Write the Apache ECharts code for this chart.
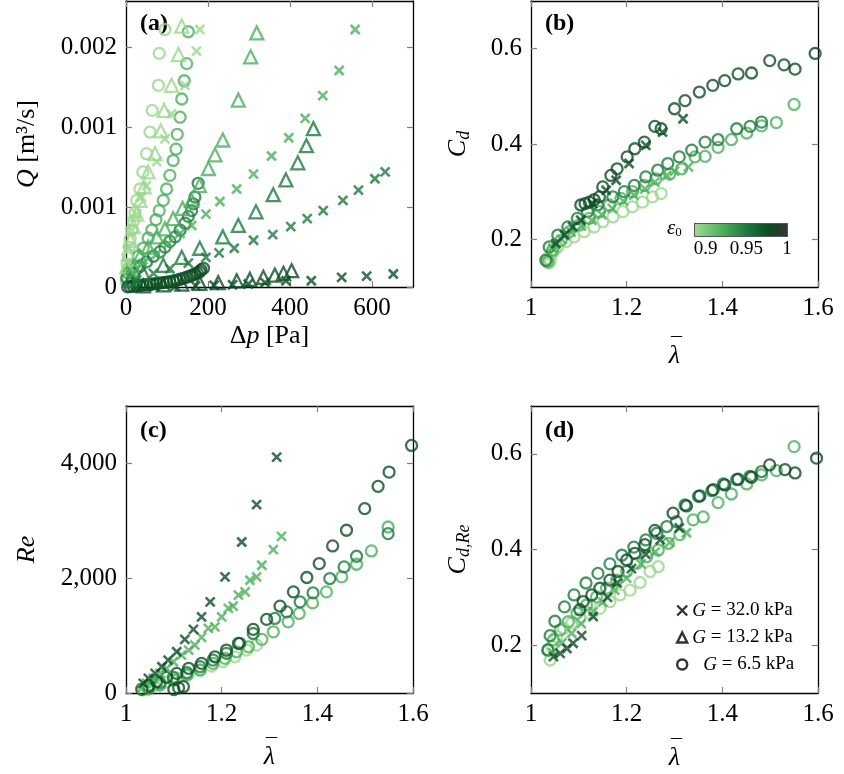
<!DOCTYPE html>
<html>
<head>
<meta charset="UTF-8">
<title>flow curves</title>
<script src="https://cdn.jsdelivr.net/npm/echarts@6/dist/echarts.min.js"></script>
<style>html,body{margin:0;padding:0;background:#fff}</style>
</head>
<body>
<div id="main" style="width:844px;height:774px;"></div>
<script>
// eps0 levels of the four sample groups (colour from the colour bar)
var epsL = 0.889, epsM = 0.921, epsD = 0.949, epsK = 0.975;

// (a) flow rate Q [m3/s] vs pressure drop [Pa]
var aCircL = [[95,0.00226],[81,0.00205],[79,0.00177],[64,0.00155],[58.5,0.00136],[50,0.00117],[41,0.00101],[34,0.00086],[26,0.00076],[22,0.00065],[18,0.00058],[14,0.0005],[10,0.00042],[8,0.00035],[5,0.00028],[3,0.0002],[4,0.00014],[2,0.00009],[1,0.00005]];
var aCircM = [[152,0.00224],[148,0.00196],[142,0.00181],[136,0.00165],[132,0.00149],[125,0.00134],[122,0.00121],[115,0.00111],[107,0.00098],[99,0.00086],[91,0.00076],[81,0.00067],[73,0.00059],[63,0.0005],[54,0.00043],[42,0.00034],[30,0.00027],[18,0.00019],[6,0.00012]];
var aCircD = [[176,0.00091],[168,0.00079],[164,0.00073],[160,0.00067],[152,0.00062],[144,0.00056],[132,0.0005],[120,0.00044],[107,0.0004],[95,0.00035],[83,0.00031],[67,0.00027],[50,0.00022],[34,0.00018],[18,0.00012],[2,0.00008]];
var aCircK = [[189,0.000164],[183,0.00015],[180,0.000134],[174,0.000124],[168,0.000114],[162,0.000105],[156,0.000096],[148,0.000086],[140,0.000076],[132,0.000068],[124,0.000061],[116,0.000053],[107,0.000046],[99,0.000042],[91,0.000038],[83,0.000035],[75,0.000032],[67,0.000028],[59,0.000024],[50,0.000021],[42,0.000018],[34,0.000013],[26,0.000009],[18,0.000006],[10,0.000003],[4,0.000001]];
var aTriL = [[136,0.00229],[128,0.00204],[111,0.00177],[93,0.00155],[85,0.00137],[71,0.00117],[54,0.00101],[44,0.00088],[34,0.00076],[26,0.00064],[18,0.00053],[11,0.00041],[6,0.00029],[2,0.00018]];
var aTriM = [[319,0.00223],[304,0.00202],[274,0.00164],[236,0.00129],[217,0.00116],[201,0.00104],[179,0.00089],[160,0.00076],[138,0.00069],[115,0.0006],[95,0.00051],[75,0.00044],[54,0.00035],[34,0.00027],[18,0.00018]];
var aTriD = [[457,0.00139],[440,0.00124],[419,0.00109],[390,0.00094],[359,0.00081],[317,0.00066],[274,0.00054],[236,0.00044],[180,0.00034],[136,0.00026],[91,0.00019],[42,0.00012],[10,0.00006]];
var aTriK = [[404,0.000143],[384,0.00012],[363,0.000105],[335,0.000085],[302,0.000067],[270,0.000055],[225,0.000038],[180,0.000032],[136,0.000026],[91,0.000018],[42,0.000009]];
var aCrossL = [[180,0.00226],[172,0.00207],[144,0.00177],[111,0.00152],[95,0.0013],[75,0.0011],[50,0.00089],[38,0.00079],[26,0.00064],[14,0.0005],[6,0.00035],[2,0.00021]];
var aCrossM = [[559,0.00226],[520,0.0019],[480,0.00168],[437,0.00148],[397,0.00131],[355,0.00115],[311,0.00099],[270,0.00086],[229,0.00075],[195,0.00064],[160,0.00054],[132,0.00047],[103,0.00038],[75,0.00029],[42,0.00021],[18,0.00012]];
var aCrossD = [[632,0.00101],[607,0.00095],[567,0.00085],[529,0.00076],[481,0.00067],[442,0.0006],[402,0.00053],[358,0.00046],[311,0.00041],[264,0.00034],[227,0.0003],[195,0.00026],[152,0.00021],[107,0.00016],[67,0.00012],[26,0.00006]];
var aCrossK = [[652,0.000114],[587,0.000096],[526,0.000085],[452,0.000055],[390,0.000055],[339,0.000038],[298,0.000026],[260,0.00002],[215,0.000015],[170,0.00001],[120,0.000006],[70,0.000003]];

// (b) Cd vs mean stretch
var bCircL = [[1.034,0.16],[1.038,0.15],[1.04,0.155],[1.042,0.167],[1.045,0.172],[1.05,0.178],[1.056,0.184],[1.073,0.195],[1.09,0.205],[1.111,0.216],[1.132,0.226],[1.15,0.237],[1.171,0.247],[1.192,0.258],[1.212,0.268],[1.233,0.278],[1.254,0.289],[1.272,0.296]];
var bCircM = [[1.035,0.153],[1.045,0.177],[1.063,0.198],[1.08,0.216],[1.101,0.23],[1.122,0.244],[1.143,0.258],[1.164,0.272],[1.188,0.286],[1.212,0.3],[1.237,0.313],[1.261,0.327],[1.29,0.337],[1.315,0.348],[1.343,0.373],[1.364,0.374],[1.391,0.393],[1.419,0.409],[1.451,0.423],[1.482,0.438],[1.513,0.445],[1.55,0.483]];
var bCircD = [[1.031,0.156],[1.038,0.184],[1.056,0.209],[1.077,0.226],[1.097,0.244],[1.118,0.258],[1.139,0.272],[1.171,0.289],[1.195,0.3],[1.216,0.313],[1.24,0.331],[1.265,0.345],[1.286,0.359],[1.31,0.373],[1.336,0.387],[1.364,0.404],[1.391,0.409],[1.43,0.432],[1.458,0.437],[1.482,0.446]];
var bCircK = [[1.104,0.272],[1.113,0.275],[1.122,0.278],[1.132,0.283],[1.143,0.289],[1.15,0.31],[1.167,0.334],[1.18,0.348],[1.201,0.373],[1.217,0.39],[1.237,0.404],[1.259,0.437],[1.272,0.432],[1.3,0.474],[1.322,0.491],[1.352,0.509],[1.38,0.523],[1.405,0.533],[1.433,0.547],[1.461,0.549],[1.499,0.575],[1.529,0.566],[1.552,0.557],[1.594,0.59]];
var bCrossM = [[1.045,0.182],[1.064,0.2],[1.084,0.215],[1.105,0.228],[1.127,0.24],[1.148,0.252],[1.17,0.265],[1.193,0.28],[1.215,0.293],[1.238,0.306],[1.259,0.32],[1.284,0.334],[1.3,0.343],[1.329,0.352]];
var bCrossK = [[1.052,0.191],[1.07,0.209],[1.087,0.226],[1.104,0.24],[1.129,0.275],[1.157,0.303],[1.178,0.324],[1.205,0.359],[1.24,0.397],[1.275,0.425],[1.318,0.453]];

// (c) Re vs mean stretch
var cCircL = [[1.036,52],[1.057,122],[1.082,191],[1.106,261],[1.131,330],[1.155,400],[1.179,470],[1.203,544],[1.228,631],[1.252,748],[1.273,835]];
var cCircM = [[1.047,70],[1.071,139],[1.099,226],[1.127,313],[1.155,400],[1.182,516],[1.207,603],[1.231,718],[1.256,805],[1.284,934],[1.308,1066],[1.339,1240],[1.362,1386],[1.39,1570],[1.419,1762],[1.451,2023],[1.482,2243],[1.513,2475],[1.548,2892]];
var cCircD = [[1.047,99],[1.071,179],[1.099,273],[1.127,353],[1.155,457],[1.182,574],[1.21,690],[1.238,864],[1.266,1037],[1.311,1299],[1.336,1414],[1.364,1588],[1.391,1744],[1.426,1994],[1.456,2197],[1.482,2382],[1.548,2777]];
var cCircK = [[1.1,60],[1.11,90],[1.12,110],[1.033,64],[1.047,122],[1.064,197],[1.085,273],[1.106,342],[1.131,430],[1.158,516],[1.186,631],[1.21,748],[1.235,864],[1.266,1108],[1.294,1282],[1.322,1513],[1.35,1762],[1.378,2012],[1.404,2255],[1.432,2562],[1.461,2835],[1.499,3212],[1.527,3600],[1.55,3849],[1.597,4313]];
var cCrossM = [[1.033,82],[1.043,168],[1.057,255],[1.071,342],[1.085,430],[1.099,544],[1.116,661],[1.131,748],[1.144,835],[1.158,969],[1.172,1125],[1.186,1153],[1.2,1327],[1.214,1473],[1.224,1513],[1.235,1704],[1.249,1762],[1.259,1965],[1.273,2023],[1.284,2226],[1.308,2499],[1.325,2730]];
var cCrossK = [[1.036,168],[1.047,255],[1.061,342],[1.075,457],[1.088,574],[1.106,718],[1.123,934],[1.141,1108],[1.158,1327],[1.176,1588],[1.207,2023],[1.242,2631],[1.273,3281],[1.315,4110]];

// (d) Cd,Re vs mean stretch
var dCircL = [[1.04,0.169],[1.043,0.197],[1.054,0.218],[1.068,0.235],[1.085,0.246],[1.102,0.256],[1.123,0.267],[1.144,0.277],[1.165,0.291],[1.186,0.305],[1.207,0.315],[1.228,0.331],[1.249,0.354],[1.266,0.364]];
var dCircM = [[1.036,0.19],[1.047,0.211],[1.061,0.232],[1.078,0.249],[1.096,0.267],[1.116,0.284],[1.137,0.301],[1.158,0.319],[1.179,0.336],[1.2,0.354],[1.221,0.371],[1.242,0.385],[1.266,0.399],[1.287,0.413],[1.311,0.431],[1.339,0.462],[1.36,0.468],[1.391,0.498],[1.419,0.516],[1.451,0.537],[1.482,0.556],[1.513,0.565],[1.55,0.615]];
var dCircD = [[1.035,0.19],[1.04,0.22],[1.05,0.25],[1.07,0.28],[1.09,0.305],[1.115,0.33],[1.14,0.35],[1.165,0.37],[1.19,0.388],[1.215,0.405],[1.24,0.42],[1.263,0.434],[1.284,0.448],[1.304,0.458],[1.322,0.493],[1.35,0.511],[1.378,0.523],[1.402,0.537],[1.43,0.546],[1.458,0.553],[1.482,0.563]];
var dCircK = [[1.102,0.274],[1.109,0.291],[1.127,0.305],[1.144,0.319],[1.165,0.336],[1.182,0.354],[1.2,0.378],[1.217,0.392],[1.238,0.41],[1.259,0.44],[1.297,0.476],[1.325,0.491],[1.353,0.512],[1.381,0.525],[1.405,0.535],[1.433,0.547],[1.461,0.551],[1.499,0.577],[1.531,0.567],[1.552,0.56],[1.597,0.591]];
var dCrossM = [[1.045,0.185],[1.065,0.205],[1.085,0.225],[1.105,0.245],[1.13,0.27],[1.15,0.29],[1.175,0.315],[1.2,0.34],[1.23,0.37],[1.26,0.395],[1.29,0.415],[1.325,0.435]];
var dCrossK = [[1.047,0.176],[1.061,0.183],[1.075,0.193],[1.088,0.204],[1.106,0.22],[1.13,0.26],[1.16,0.3],[1.18,0.33],[1.21,0.36],[1.24,0.39],[1.27,0.42],[1.31,0.445]];

// tick values
var aXTicks = [0, 200, 400, 600];
var aYTicks = [0, 0.0007, 0.0014, 0.0021];
var lamTicks = [1, 1.2, 1.4, 1.6];
var cdTicks = [0.2, 0.4, 0.6];
var reTicks = [0, 2000, 4000];
var cbTicks = [0.9, 0.95, 1];
var cbMin = 0.887, cbMax = 1;
var cmap = [[0, '#a0d992'], [0.3, '#4caf5c'], [0.55, '#1e7b3e'], [0.8, '#0b4a24'], [1, '#363636']];

function hex(c) { return [1, 3, 5].map(function (i) { return parseInt(c.substr(i, 2), 16); }); }
function epsColor(e) {
    var t = (e - cbMin) / (cbMax - cbMin);
    for (var i = 1; i < cmap.length; i++) {
        if (t <= cmap[i][0]) {
            var f = (t - cmap[i - 1][0]) / (cmap[i][0] - cmap[i - 1][0]);
            var a = hex(cmap[i - 1][1]), b = hex(cmap[i][1]);
            return 'rgb(' + a.map(function (v, k) { return Math.round(v + (b[k] - v) * f); }).join(',') + ')';
        }
    }
    return cmap[cmap.length - 1][1];
}

var FONT = 'Liberation Serif';
var CROSS = 'path://M0,0L10,10M10,0L0,10';
var SYM = { x: CROSS, t: 'triangle', o: 'circle' };
var SIZE = { x: 9, t: 13, o: 11 };
var GNAME = { x: 'G = 32.0 kPa', t: 'G = 13.2 kPa', o: 'G = 6.5 kPa' };

function sc(panel, shape, eps, data) {
    return {
        type: 'scatter', name: GNAME[shape],
        xAxisIndex: panel * 2, yAxisIndex: panel * 2,
        data: data, symbol: SYM[shape], symbolSize: SIZE[shape],
        itemStyle: { color: 'transparent', borderColor: epsColor(eps), borderWidth: shape === 'x' ? 2.6 : 2.3 },
        emphasis: { disabled: true }, silent: true, animation: false
    };
}

var tick = { inside: true, length: 6, lineStyle: { color: '#808080', width: 1.2 } };
var line = { show: true, onZero: false, lineStyle: { color: '#000', width: 1.3 } };
var lbl = { fontFamily: FONT, fontSize: 25, color: '#000' };
var rich = {
    i: { fontFamily: FONT, fontStyle: 'italic', fontSize: 26, lineHeight: 30 },
    r: { fontFamily: FONT, fontSize: 26, lineHeight: 30 },
    s: { fontFamily: FONT, fontStyle: 'italic', fontSize: 18, lineHeight: 12, verticalAlign: 'bottom' },
    b: { fontFamily: FONT, fontSize: 22, lineHeight: 8, padding: [0, 0, 0, 4] },
    l: { fontFamily: FONT, fontStyle: 'italic', fontSize: 26, lineHeight: 12 }
};

function fmtNum(v) { return String(+v.toFixed(3)); }
function fmtQ(v) { return v === 0 ? '0' : v.toFixed(3); }
function fmtRe(v) { return String(v).replace(/\B(?=(\d{3})+(?!\d))/g, ','); }

function axisPair(dim, grid, min, max, ticks, fmt, name, gap) {
    var main = {
        type: 'value', gridIndex: grid, position: dim === 'x' ? 'bottom' : 'left',
        min: min, max: max, axisLine: line,
        axisTick: Object.assign({ customValues: ticks }, tick),
        axisLabel: Object.assign({ customValues: ticks, formatter: fmt, margin: 9 }, lbl),
        splitLine: { show: false },
        name: name, nameLocation: 'middle', nameGap: gap,
        nameRotate: dim === 'y' ? 90 : 0,
        nameTextStyle: { fontFamily: FONT, fontSize: 26, color: '#000', rich: rich }
    };
    var mirror = {
        type: 'value', gridIndex: grid, position: dim === 'x' ? 'top' : 'right',
        min: min, max: max, axisLine: line,
        axisTick: Object.assign({ customValues: ticks }, tick),
        axisLabel: { show: false }, splitLine: { show: false }
    };
    return [main, mirror];
}

var lamName = '{b|¯}\n{l|λ}';
var xAxes = [].concat(
    axisPair('x', 0, 0, 700, aXTicks, fmtNum, '{r|Δ}{i|p}{r| [Pa]}', 34),
    axisPair('x', 1, 1, 1.6, lamTicks, fmtNum, lamName, 55),
    axisPair('x', 2, 1, 1.6, lamTicks, fmtNum, lamName, 50),
    axisPair('x', 3, 1, 1.6, lamTicks, fmtNum, lamName, 51)
);
var yAxes = [].concat(
    axisPair('y', 0, 0, 0.00251, aYTicks, fmtQ, '{i|Q}{r| [m³/s]}', 84),
    axisPair('y', 1, 0.1, 0.7, cdTicks, fmtNum, '{i|C}{s|d}', 58),
    axisPair('y', 2, 0, 5000, reTicks, fmtRe, '{i|Re}', 84),
    axisPair('y', 3, 0.1, 0.7, cdTicks, fmtNum, '{i|C}{s|d,Re}', 58)
);

// colour bar axes (grid 4)
xAxes.push({
    type: 'value', gridIndex: 4, position: 'bottom', min: cbMin, max: cbMax,
    axisLine: { show: true, onZero: false, lineStyle: { color: '#222', width: 1.5 } },
    axisTick: { inside: true, length: 4, customValues: [0.9, 0.95], lineStyle: { color: '#222', width: 1 } },
    axisLabel: Object.assign({ customValues: cbTicks, formatter: fmtNum, margin: 4 }, lbl, { fontSize: 19 }),
    splitLine: { show: false }
}, {
    type: 'value', gridIndex: 4, position: 'top', min: cbMin, max: cbMax,
    axisLine: { show: true, onZero: false, lineStyle: { color: '#222', width: 1.5 } },
    axisTick: { inside: true, length: 4, customValues: [0.9, 0.95], lineStyle: { color: '#222', width: 1 } },
    axisLabel: { show: false }, splitLine: { show: false }
});
yAxes.push({
    type: 'value', gridIndex: 4, min: 0, max: 1,
    axisLine: { show: true, lineStyle: { color: '#222', width: 1.5 } },
    axisTick: { show: false }, axisLabel: { show: false }, splitLine: { show: false }
}, {
    type: 'value', gridIndex: 4, position: 'right', min: 0, max: 1,
    axisLine: { show: true, lineStyle: { color: '#222', width: 1.5 } },
    axisTick: { show: false }, axisLabel: { show: false }, splitLine: { show: false }
});

var series = [
    sc(0, 'o', epsL, aCircL), sc(0, 'o', epsM, aCircM), sc(0, 'o', epsD, aCircD), sc(0, 'o', epsK, aCircK),
    sc(0, 't', epsL, aTriL), sc(0, 't', epsM, aTriM), sc(0, 't', epsD, aTriD), sc(0, 't', epsK, aTriK),
    sc(0, 'x', epsL, aCrossL), sc(0, 'x', epsM, aCrossM), sc(0, 'x', epsD, aCrossD), sc(0, 'x', epsK, aCrossK),
    sc(1, 'o', epsL, bCircL), sc(1, 'o', epsM, bCircM), sc(1, 'o', epsD, bCircD), sc(1, 'o', epsK, bCircK),
    sc(1, 'x', epsM, bCrossM), sc(1, 'x', epsK, bCrossK),
    sc(2, 'o', epsL, cCircL), sc(2, 'o', epsM, cCircM), sc(2, 'o', epsD, cCircD), sc(2, 'o', epsK, cCircK),
    sc(2, 'x', epsM, cCrossM), sc(2, 'x', epsK, cCrossK),
    sc(3, 'o', epsL, dCircL), sc(3, 'o', epsM, dCircM), sc(3, 'o', epsD, dCircD), sc(3, 'o', epsK, dCircK),
    sc(3, 'x', epsM, dCrossM), sc(3, 'x', epsK, dCrossK),
    {
        // colour bar
        type: 'custom', xAxisIndex: 8, yAxisIndex: 8, silent: true, animation: false,
        data: [[cbMin, cbMax]],
        renderItem: function (params, api) {
            var p0 = api.coord([api.value(0), 0]), p1 = api.coord([api.value(1), 1]);
            return {
                type: 'rect', z2: -1,
                shape: { x: p0[0], y: p1[1], width: p1[0] - p0[0], height: p0[1] - p1[1] },
                style: { fill: new echarts.graphic.LinearGradient(0, 0, 1, 0, cmap.map(function (s) { return { offset: s[0], color: s[1] }; })) }
            };
        }
    }
];

var legendIcon = { color: 'transparent', borderColor: '#000', borderWidth: 2.4 };
var option = {
    backgroundColor: '#fff',
    animation: false,
    grid: [
        { left: 126, top: 1, width: 287, height: 286 },
        { left: 531, top: 1, width: 287, height: 286 },
        { left: 126, top: 406, width: 287, height: 287 },
        { left: 531, top: 406, width: 287, height: 287 },
        { left: 695, top: 224, width: 92, height: 12 }
    ],
    xAxis: xAxes,
    yAxis: yAxes,
    legend: {
        left: 671, top: 596, orient: 'vertical', itemGap: 8, itemWidth: 10, itemHeight: 10,
        selectedMode: false,
        data: [
            { name: 'G = 32.0 kPa', icon: CROSS, itemStyle: legendIcon },
            { name: 'G = 13.2 kPa', icon: 'triangle', itemStyle: legendIcon },
            { name: 'G = 6.5 kPa', icon: 'circle', itemStyle: legendIcon }
        ],
        formatter: function (n) {
            var rest = n.slice(1);
            return (n === 'G = 6.5 kPa' ? '{p|}' : '') + '{g|G}{t|' + rest + '}';
        },
        textStyle: {
            fontFamily: FONT, fontSize: 19, color: '#000',
            rich: {
                g: { fontFamily: FONT, fontStyle: 'italic', fontSize: 19, lineHeight: 20 },
                t: { fontFamily: FONT, fontSize: 19, lineHeight: 20 },
                p: { width: 11 }
            }
        }
    },
    graphic: [
        { type: 'text', left: 140, top: 12, style: { text: '(a)', font: 'bold 24px "Liberation Serif"', fill: '#000' } },
        { type: 'text', left: 545, top: 12, style: { text: '(b)', font: 'bold 24px "Liberation Serif"', fill: '#000' } },
        { type: 'text', left: 140, top: 419, style: { text: '(c)', font: 'bold 24px "Liberation Serif"', fill: '#000' } },
        { type: 'text', left: 545, top: 419, style: { text: '(d)', font: 'bold 24px "Liberation Serif"', fill: '#000' } },
        {
            type: 'text', left: 667, top: 218,
            style: {
                text: '{e|ε}{s|0}',
                rich: {
                    e: { fontFamily: FONT, fontStyle: 'italic', fontSize: 21, lineHeight: 22 },
                    s: { fontFamily: FONT, fontSize: 13, lineHeight: 10, verticalAlign: 'bottom' }
                }
            }
        }
    ],
    series: series
};

var chart = echarts.init(document.getElementById('main'), null, { renderer: 'canvas' });
chart.setOption(option);
</script>
</body>
</html>
